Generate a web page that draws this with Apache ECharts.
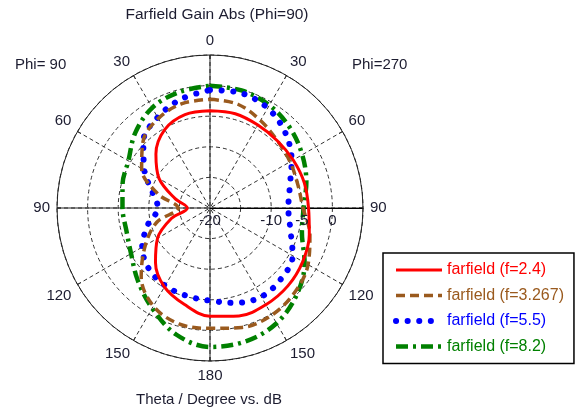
<!DOCTYPE html>
<html><head><meta charset="utf-8">
<script src="https://cdn.jsdelivr.net/npm/echarts@6/dist/echarts.min.js"></script>
<style>html,body{margin:0;padding:0;background:#fff}#c{width:577px;height:410px}</style>
</head><body><div id="c"></div>
<script>
// Theta sample positions (degrees from 0 at top)
const thetaDeg = [0, 15, 30, 45, 60, 75, 90, 105, 120, 135, 150, 165, 180];
// Radial (dB) ticks and their shown labels
const radiusTicks = [-20, -15, -10, -5, 0, 5];
const radiusTickLabels = ['-20', '', '-10', '-5', '0', ''];
const seriesNames = ['farfield (f=2.4)', 'farfield (f=3.267)', 'farfield (f=5.5)', 'farfield (f=8.2)'];
// Gain in dB, Phi=270 half (right side) and Phi=90 half (left side), by thetaDeg
const f24_phi270  = [-4.1, -4.05, -4.35, -4.45, -4.3, -4.05, -3.9, -3.2, -2.5, -2.0, -1.75, -1.75, -2.3];
const f24_phi90   = [-4.1, -4.2, -5.2, -7.5, -10.4, -14.1, -16.3, -13.5, -10.1, -7.4, -5.1, -3.7, -2.3];
const f3267_phi270 = [-2.24, -2.45, -3.5, -4.45, -4.9, -5.15, -4.8, -3.1, -1.5, -0.45, 0.2, 0.2, -0.34];
const f3267_phi90  = [-2.24, -2.35, -3.1, -4.55, -7.1, -11.2, -14.8, -11.0, -7.8, -4.1, -1.5, -0.4, -0.34];
const f55_phi270  = [-0.72, -0.55, -1.15, -2.6, -4.6, -6.5, -7.2, -6.4, -4.4, -3.6, -3.25, -3.95, -4.85];
const f55_phi90   = [-0.72, -1.6, -2.9, -4.6, -7.6, -10.3, -11.5, -9.5, -7.2, -5.9, -5.35, -5.15, -4.85];
const f82_phi270  = [-0.02, -0.12, -0.6, -1.5, -2.6, -3.7, -4.7, -4.45, -2.15, 0.05, 1.75, 2.55, 2.7];
const f82_phi90   = [-0.02, -0.4, -1.1, -2.7, -4.6, -5.2, -5.7, -5.85, -5.1, -3.3, -1.1, 1.4, 2.7];

const FONT = '"Liberation Sans", Arial, sans-serif';
const TXT = '#1c1c30';
const colors = ['#ff0000', '#9a5a1e', '#0000ff', '#008000'];

// angle coordinate: startAngle at 3 o'clock, clockwise
function rightAngle(t) { return (t + 270) % 360; }
function leftAngle(t) { return (270 - t + 360) % 360; }
function buildCurve(right, left) {
  const pts = [];
  thetaDeg.forEach((t, i) => pts.push([right[i], rightAngle(t)]));
  for (let i = thetaDeg.length - 1; i >= 0; i--) pts.push([left[i], leftAngle(thetaDeg[i])]);
  return pts;
}
const curves = [
  buildCurve(f24_phi270, f24_phi90),
  buildCurve(f3267_phi270, f3267_phi90),
  buildCurve(f55_phi270, f55_phi90),
  buildCurve(f82_phi270, f82_phi90)
];
const lineStyles = [
  { width: 3, type: 'solid' },
  { width: 3.5, type: [9, 5] },
  { width: 6, type: [0.1, 11.5], cap: 'round' },
  { width: 4.5, type: [12, 5, 3, 5] }
];
const labelFormatter = function (v) {
  const k = radiusTicks.findIndex(t => Math.abs(t - v) < 1e-6);
  return k >= 0 ? radiusTickLabels[k] : '';
};

const chart = echarts.init(document.getElementById('c'), null, { renderer: 'canvas' });
const option = {
  backgroundColor: '#fff',
  animation: false,
  title: [
    { text: 'Farfield Gain Abs (Phi=90)', left: 217, top: 7, textAlign: 'center', padding: 0,
      textStyle: { fontFamily: FONT, fontSize: 15.5, fontWeight: 'normal', color: TXT } },
    { text: 'Phi= 90', left: 15, top: 57, padding: 0,
      textStyle: { fontFamily: FONT, fontSize: 15, fontWeight: 'normal', color: TXT } },
    { text: 'Phi=270', left: 352, top: 57, padding: 0,
      textStyle: { fontFamily: FONT, fontSize: 15, fontWeight: 'normal', color: TXT } },
    { text: 'Theta / Degree vs. dB', left: 209, top: 392, textAlign: 'center', padding: 0,
      textStyle: { fontFamily: FONT, fontSize: 15, fontWeight: 'normal', color: TXT } }
  ],
  legend: {
    orient: 'vertical', left: 383, top: 253,
    padding: [9, 10, 9, 10], itemGap: 9.5, itemWidth: 46, itemHeight: 14,
    borderColor: '#000', borderWidth: 1.5,
    itemStyle: { color: 'rgba(0,0,0,0)', borderColor: 'rgba(0,0,0,0)', borderWidth: 0, opacity: 0 },
    textStyle: { fontFamily: FONT, fontSize: 16 },
    data: seriesNames.map((n, i) => ({
      name: n, textStyle: { color: colors[i] },
      lineStyle: Object.assign({ color: colors[i] }, lineStyles[i])
    }))
  },
  polar: [
    { center: [210, 208], radius: 153 },
    { center: [210, 208], radius: 153 }
  ],
  angleAxis: [
    {
      polarIndex: 0, type: 'value', min: 0, max: 360, interval: 30, startAngle: 0, clockwise: true,
      axisLine: { show: true, lineStyle: { color: '#222', width: 1 } },
      axisTick: { show: true, inside: true, length: 4, lineStyle: { color: '#222' } },
      axisLabel: {
        fontFamily: FONT, fontSize: 15, color: TXT, margin: 7,
        formatter: function (a) {
          if (a >= 360) return '';
          const c = (a + 90) % 360;
          return String(c <= 180 ? c : 360 - c);
        }
      },
      splitLine: { show: true, lineStyle: { color: '#333', width: 1, type: [4, 3] } }
    },
    {
      polarIndex: 1, type: 'value', min: 0, max: 360, interval: 90, startAngle: 0, clockwise: true,
      axisLine: { show: false }, axisTick: { show: false }, axisLabel: { show: false },
      splitLine: { show: true, lineStyle: { color: '#222', width: 1, type: 'solid' } }
    }
  ],
  radiusAxis: [
    {
      polarIndex: 0, type: 'value', min: radiusTicks[0], max: radiusTicks[radiusTicks.length - 1], interval: 5,
      axisLine: { show: true, lineStyle: { color: '#000', width: 1 } },
      axisTick: { show: false },
      axisLabel: { show: false },
      splitLine: { show: true, lineStyle: { color: '#333', width: 1, type: [4, 3] } }
    },
    {
      polarIndex: 1, type: 'value', min: radiusTicks[0], max: radiusTicks[radiusTicks.length - 1], interval: 5,
      z: 20,
      axisLine: { show: false }, axisTick: { show: false }, splitLine: { show: false },
      axisLabel: {
        show: true, fontFamily: FONT, fontSize: 15, color: TXT, margin: -5, verticalAlign: 'top',
        interval: 0, hideOverlap: false, formatter: labelFormatter
      }
    }
  ],
  series: [3, 2, 1, 0].map(i => ({
    name: seriesNames[i], type: 'line', coordinateSystem: 'polar', polarIndex: 0,
    data: curves[i], symbol: 'none', smooth: 0.35, z: 3 + (3 - i),
    lineStyle: Object.assign({ color: colors[i] }, lineStyles[i]),
    itemStyle: { color: colors[i] }
  }))
};
chart.setOption(option);
</script>
</body></html>
